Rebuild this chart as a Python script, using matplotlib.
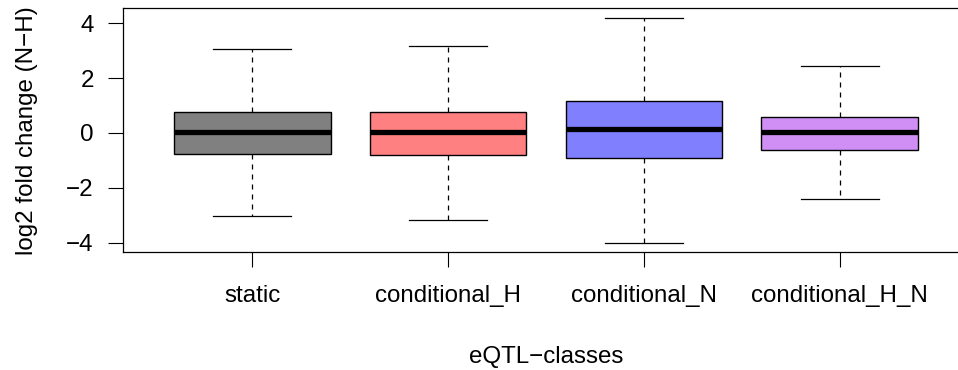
import matplotlib
matplotlib.use("Agg")
import matplotlib.pyplot as plt

plt.rcParams['font.family'] = ['Liberation Sans', 'DejaVu Sans']

# eQTL classes and box summary values
classes = ["static", "conditional_H", "conditional_N", "conditional_H_N"]
whislo = [-3.03, -3.18, -4.00, -2.40]
q1 = [-0.78, -0.81, -0.91, -0.61]
med = [0.02, 0.04, 0.13, 0.02]
q3 = [0.75, 0.77, 1.17, 0.60]
whishi = [3.04, 3.16, 4.20, 2.42]
colors = ["#808080", "#FF8080", "#8080FF", "#D08FF5"]

stats = []
for i in range(len(classes)):
    stats.append(dict(label=classes[i], whislo=whislo[i], q1=q1[i], med=med[i],
                      q3=q3[i], whishi=whishi[i], fliers=[]))

fs = 17.4
fig = plt.figure(figsize=(9.58, 3.70), dpi=100)
ax = fig.add_axes([123 / 958, (370 - 252) / 370, (969 - 123) / 958, (252 - 8.5) / 370])

bp = ax.bxp(stats, positions=range(1, len(classes) + 1), widths=0.8,
            patch_artist=True, showfliers=False,
            boxprops=dict(linewidth=1.0, edgecolor="black"),
            medianprops=dict(color="black", linewidth=3.8, solid_capstyle="butt"),
            whiskerprops=dict(color="black", linewidth=0.9, linestyle=(0, (4, 4))),
            capprops=dict(color="black", linewidth=0.9), capwidths=0.4)
for patch, c in zip(bp["boxes"], colors):
    patch.set_facecolor(c)

ax.set_xlim(0.34, 4.66)
ax.set_ylim(-4.33, 4.53)
ax.set_yticks([-4, -2, 0, 2, 4])
ax.set_yticklabels(["\u22124", "\u22122", "0", "2", "4"])
ax.set_xticks(range(1, len(classes) + 1))
ax.set_xticklabels(classes)
ax.tick_params(axis="both", length=10.5, width=0.8, labelsize=fs, color="black")
ax.tick_params(axis="x", pad=13.5)
ax.tick_params(axis="y", pad=10.5)
for s in ax.spines.values():
    s.set_linewidth(0.9)

ax.set_xlabel("eQTL\u2212classes", fontsize=fs, va="center")
ax.xaxis.set_label_coords(0.5, -0.431)
ax.set_ylabel("log2 fold change (N\u2212H)", fontsize=fs, va="center")
ax.yaxis.set_label_coords(-0.1135, 0.5)

fig.savefig("out.png", dpi=100)
